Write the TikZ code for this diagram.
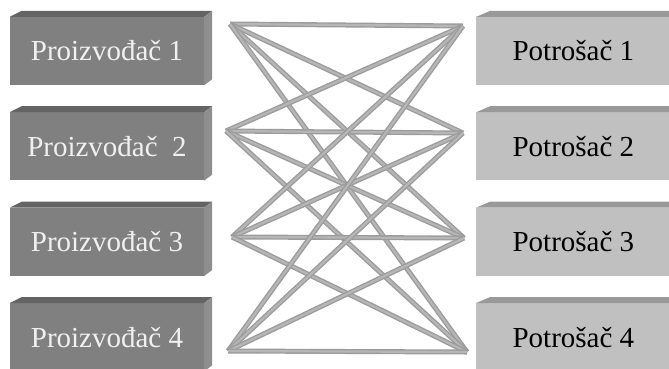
\documentclass[tikz,border=0pt]{standalone}
\usepackage{fontspec}
\setmainfont{Liberation Serif}
\usepackage{tikz}
\usetikzlibrary{positioning,calc}

\definecolor{prodfill}{HTML}{808080}
\definecolor{prodtop}{HTML}{646464}
\definecolor{prodside}{HTML}{8E8E8E}
\definecolor{consfill}{HTML}{C0C0C0}
\definecolor{constop}{HTML}{999999}
\definecolor{linkedge}{HTML}{9C9C9C}
\definecolor{linkcore}{HTML}{B6B6B6}

\begin{document}
\begin{tikzpicture}[
			x=1pt,y=-1pt,
			node distance=27pt,
			every node/.style={
				minimum width=194pt,
				minimum height=68pt,
				inner sep=0pt,
				font=\fontsize{29}{34}\selectfont
			},
			prod/.style={fill=prodfill,text=white!94!black},
			cons/.style={fill=consfill,text=black},
			link/.style={draw=linkedge,double=linkcore,double distance=2.2pt,line width=1.4pt}
			]
			
			\useasboundingbox[fill=white] (0,0) rectangle (669,368);
			
			% producers
			\node[prod] at (107,51) (p1) {Proizvođač 1};
			\node[prod,below=of p1] (p2) {Proizvođač\ \ 2};
			\node[prod,below=of p2] (p3) {Proizvođač 3};
			\node[prod,below=of p3] (p4) {Proizvođač 4};
			
			% consumers
			\node[cons,right=272pt of p1] (c1) {Potrošač 1};
			\node[cons,below=of c1] (c2) {Potrošač 2};
			\node[cons,below=of c2] (c3) {Potrošač 3};
			\node[cons,below=of c3] (c4) {Potrošač 4};
			
			% bevels
			\foreach \n in {p1,p2,p3,p4}{
				\fill[prodtop] (\n.north west) -- ++(12,-6) -- ($(\n.north east)+(8,-6)$) -- (\n.north east) -- cycle;
				\fill[prodside] (\n.north east) -- ++(8,-6) -- ($(\n.south east)+(8,-6)$) -- (\n.south east) -- cycle;
			}
			\foreach \n in {c1,c2,c3,c4}{
				\fill[constop] (\n.north west) -- ++(14,-6) -- ($(\n.north east)+(8,-6)$) -- (\n.north east) -- cycle;
			}
			
			% link ends
			\coordinate (out1) at (230,24);
			\coordinate (out2) at (226,131);
			\coordinate (out3) at (232,237);
			\coordinate (out4) at (228,351);
			\coordinate (in1) at (463,26);
			\coordinate (in2) at (463,133);
			\coordinate (in3) at (464,238);
			\coordinate (in4) at (467,352);
			
			\draw[link] (out1) -- (in1);
			\draw[link] (out1) -- (in2);
			\draw[link] (out1) -- (in3);
			\draw[link] (out1) -- (in4);
			\draw[link] (out2) -- (in1);
			\draw[link] (out2) -- (in2);
			\draw[link] (out2) -- (in3);
			\draw[link] (out2) -- (in4);
			\draw[link] (out3) -- (in1);
			\draw[link] (out3) -- (in2);
			\draw[link] (out3) -- (in3);
			\draw[link] (out3) -- (in4);
			\draw[link] (out4) -- (in1);
			\draw[link] (out4) -- (in2);
			\draw[link] (out4) -- (in3);
			\draw[link] (out4) -- (in4);
			
		\end{tikzpicture}
\end{document}
